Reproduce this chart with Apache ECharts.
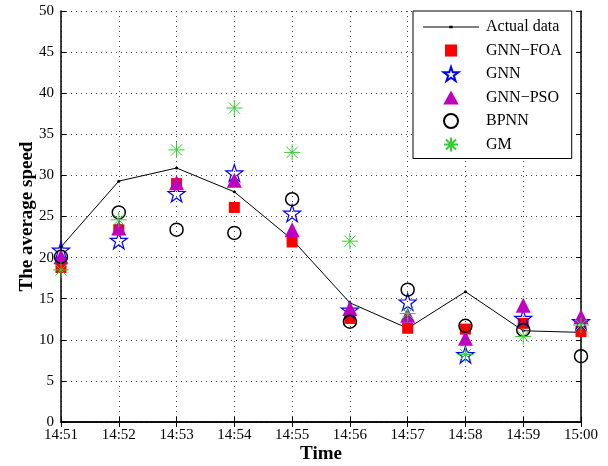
<!DOCTYPE html>
<html><head><meta charset="utf-8">
<script src="https://cdn.jsdelivr.net/npm/echarts@6/dist/echarts.min.js"></script>
<style>html,body{margin:0;padding:0;background:#fff}#c{width:608px;height:466px}</style>
</head><body><div id="c"></div>
<script>
const categories = ['14:51','14:52','14:53','14:54','14:55','14:56','14:57','14:58','14:59','15:00'];
const actualData = [21.3, 29.3, 30.9, 28.0, 22.2, 14.5, 11.4, 15.85, 11.1, 10.9];
const gnnFoa     = [18.8, 23.4, 29.0, 26.1, 21.9, 12.6, 11.4, 11.3, 12.0, 11.0];
const gnn        = [20.9, 22.1, 27.8, 30.3, 25.4, 13.6, 14.6, 8.2, 12.6, 12.2];
const gnnPso     = [20.1, 23.6, 29.1, 29.4, 23.4, 13.8, 13.0, 10.2, 14.2, 12.8];
const bpnn       = [20.1, 25.5, 23.4, 23.0, 27.1, 12.2, 16.1, 11.7, 11.2, 8.0];
const gm         = [18.5, 24.6, 33.1, 38.2, 32.8, 22.0, 13.2, 8.2, 10.4, 11.8];
const yTicks = [0,5,10,15,20,25,30,35,40,45,50];

const STAR = 'path://M0,-100L22.5,-30.9L95.1,-30.9L36.3,11.8L58.8,80.9L0,38.2L-58.8,80.9L-36.3,11.8L-95.1,-30.9L-22.5,-30.9Z';
const AST = 'path://M0,-100L0,100M-100,0L100,0M-71,-71L71,71M-71,71L71,-71';
const SQR = 'path://M0,0L10,0L10,10L0,10Z';
const TRI = 'path://M5,0L10,9L0,9Z';
const SQR_L = 'path://M-0.8,-0.8M0,0L10,0L10,10L0,10ZM10.8,10.8';
const LINEICON = 'path://M0,6.5L26.3,6.5L26.3,5.7L29.7,5.7L29.7,6.5L56,6.5L56,7.5L29.7,7.5L29.7,8.3L26.3,8.3L26.3,7.5L0,7.5Z';
const serif = 'Liberation Serif';

const chart = echarts.init(document.getElementById('c'));
const tickStyle = {inside:true, length:5, lineStyle:{color:'#000', width:1}};
chart.setOption({
  animation:false,
  backgroundColor:'#fff',
  textStyle:{fontFamily:serif},
  grid:{left:61, right:27, top:11, bottom:44, show:false, containLabel:false, outerBoundsMode:'none'},
  legend:{
    orient:'vertical', left:413, top:11,
    padding:[8,10,6,10],
    itemWidth:56, itemHeight:14, itemGap:7.5, symbolKeepAspect:true,
    backgroundColor:'#fff', borderColor:'#000', borderWidth:1,
    textStyle:{fontFamily:serif, fontSize:16, color:'#000', padding:[0,0,0,2]},
    data:[
      {name:'Actual data', icon:LINEICON},
      {name:'GNN\u2212FOA', icon:SQR_L},
      {name:'GNN', icon:STAR},
      {name:'GNN\u2212PSO', icon:TRI},
      {name:'BPNN', icon:'circle'},
      {name:'GM', icon:AST}
    ]
  },
  xAxis:[{
    type:'category', data:categories, boundaryGap:false,
    name:'Time', nameLocation:'middle', nameGap:23, nameMoveOverlap:false,
    nameTextStyle:{fontFamily:serif, fontSize:19, fontWeight:'bold', color:'#000'},
    axisLine:{lineStyle:{color:'#000', width:1.5}},
    axisTick:tickStyle,
    axisLabel:{fontFamily:serif, fontSize:15, color:'#000', margin:6},
    splitLine:{show:true, lineStyle:{color:'#444', type:[1,4], width:1}}
  },{
    type:'category', data:categories, boundaryGap:false, position:'top',
    axisLine:{lineStyle:{color:'#000', width:1.5}},
    axisTick:tickStyle, axisLabel:{show:false}, splitLine:{show:false}
  }],
  yAxis:[{
    type:'value', min:0, max:50, interval:5,
    name:'The average speed', nameLocation:'middle', nameGap:24, nameMoveOverlap:false,
    nameTextStyle:{fontFamily:serif, fontSize:19, fontWeight:'bold', color:'#000'},
    axisLine:{show:true, lineStyle:{color:'#000', width:1.5}},
    axisTick:Object.assign({show:true}, tickStyle),
    axisLabel:{fontFamily:serif, fontSize:15, color:'#000', margin:7,
      formatter:v => yTicks.includes(v) ? String(v) : ''},
    splitLine:{show:true, lineStyle:{color:'#444', type:[1,4], width:1}}
  },{
    type:'value', min:0, max:50, interval:5, position:'right',
    axisLine:{show:true, lineStyle:{color:'#000', width:1.5}},
    axisTick:Object.assign({show:true}, tickStyle),
    axisLabel:{show:false}, splitLine:{show:false}
  }],
  series:[
    {name:'Actual data', type:'line', data:actualData, symbol:'circle', symbolSize:3,
      lineStyle:{color:'#000', width:1}, itemStyle:{color:'#000'}, z:2},
    {name:'GNN\u2212FOA', type:'scatter', data:gnnFoa, symbol:SQR, symbolSize:11,
      itemStyle:{color:'#ff0000', opacity:1}, z:3},
    {name:'GNN', type:'scatter', data:gnn, symbol:STAR, symbolSize:17,
      itemStyle:{color:'rgba(0,0,0,0)', borderColor:'#0000ff', borderWidth:1.2, opacity:1}, z:4},
    {name:'GNN\u2212PSO', type:'scatter', data:gnnPso, symbol:TRI, symbolSize:15,
      itemStyle:{color:'#bf00bf', opacity:1}, z:5},
    {name:'BPNN', type:'scatter', data:bpnn, symbol:'circle', symbolSize:13,
      itemStyle:{color:'rgba(0,0,0,0)', borderColor:'#000', borderWidth:1.5, opacity:1}, z:6},
    {name:'GM', type:'scatter', data:gm, symbol:AST, symbolSize:16,
      itemStyle:{color:'rgba(0,0,0,0)', borderColor:'#33cc33', borderWidth:1, opacity:1}, z:7}
  ]
});
</script></body></html>
